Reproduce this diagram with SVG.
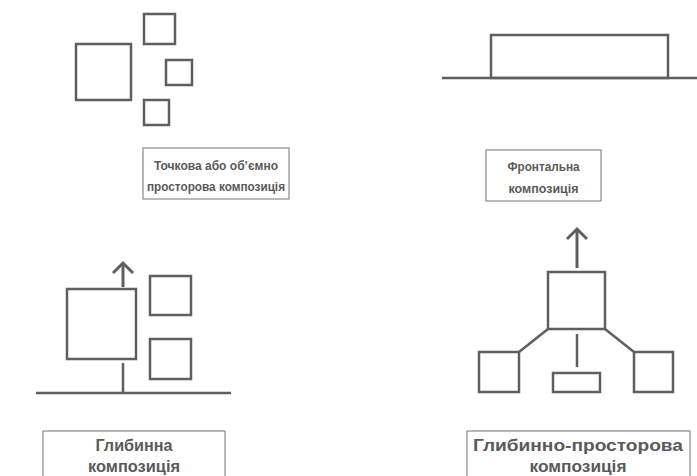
<svg xmlns="http://www.w3.org/2000/svg" width="697" height="476" viewBox="0 0 697 476">
<defs>
<style>
.s{fill:none;stroke:#5f5f5f;stroke-width:2.5}
.l{fill:none;stroke:#5f5f5f;stroke-width:2.5;stroke-linecap:butt}
.a{fill:none;stroke:#5f5f5f;stroke-width:3}
.box{fill:#fff;stroke:#8a8a8a;stroke-width:1.2}
.t{font-family:"Liberation Sans",Arial,sans-serif;font-weight:bold;fill:#5a5a5a;text-anchor:middle}
.ts{font-size:13.5px}
.tb{font-size:16px}
</style>
</defs>
<g id="point-composition">
<rect class="s" x="76" y="44" width="55" height="56"/>
<rect class="s" x="144" y="14" width="31" height="30"/>
<rect class="s" x="166" y="60" width="26" height="25"/>
<rect class="s" x="144" y="100" width="25" height="25"/>
</g>
<g id="frontal-composition">
<line class="l" x1="442" y1="78" x2="697" y2="78"/>
<rect class="s" x="491" y="35" width="177" height="43"/>
</g>
<g id="depth-composition">
<rect class="s" x="67" y="289" width="69" height="70"/>
<rect class="s" x="150" y="276" width="41" height="39"/>
<rect class="s" x="150" y="339" width="41" height="40"/>
<line class="l" x1="36" y1="393" x2="231" y2="393"/>
<line class="l" x1="123" y1="363" x2="123" y2="393"/>
</g>
<g id="depth-space-composition">
<rect class="s" x="548" y="272" width="57" height="57"/>
<rect class="s" x="479" y="352" width="40" height="40"/>
<rect class="s" x="634" y="352" width="39" height="40"/>
<rect class="s" x="553" y="373" width="47" height="19"/>
<line class="l" x1="577" y1="334" x2="577" y2="367"/>
</g>
<g id="connectors">
<line class="l" x1="548" y1="329" x2="519" y2="352"/>
<line class="l" x1="605" y1="329" x2="634" y2="352"/>
<line class="a" x1="123" y1="287" x2="123" y2="263"/>
<polyline class="a" points="113,273 123,263 133,273"/>
<line class="a" x1="577" y1="268" x2="577" y2="229"/>
<polyline class="a" points="567,239 577,229 587,239"/>
</g>
<g id="label-point">
<rect class="box" x="143" y="148" width="146" height="51"/>
<text class="t ts" x="216" y="170" textLength="124" lengthAdjust="spacingAndGlyphs">Точкова або об’ємно</text>
<text class="t ts" x="216" y="191" textLength="138" lengthAdjust="spacingAndGlyphs">просторова композиція</text>
</g>
<g id="label-frontal">
<rect class="box" x="486" y="150" width="115" height="51"/>
<text class="t ts" x="543.5" y="171" textLength="72" lengthAdjust="spacingAndGlyphs">Фронтальна</text>
<text class="t ts" x="543.5" y="193" textLength="70" lengthAdjust="spacingAndGlyphs">композиція</text>
</g>
<g id="label-depth">
<rect class="box" x="43" y="431" width="182" height="50"/>
<text class="t tb" x="134" y="451" textLength="77" lengthAdjust="spacingAndGlyphs">Глибинна</text>
<text class="t tb" x="134" y="472" textLength="92" lengthAdjust="spacingAndGlyphs">композиція</text>
</g>
<g id="label-depth-space">
<rect class="box" x="467" y="431" width="223" height="50"/>
<text class="t tb" x="578" y="451" textLength="210" lengthAdjust="spacingAndGlyphs">Глибинно-просторова</text>
<text class="t tb" x="578" y="472" textLength="97" lengthAdjust="spacingAndGlyphs">композиція</text>
</g>
</svg>
